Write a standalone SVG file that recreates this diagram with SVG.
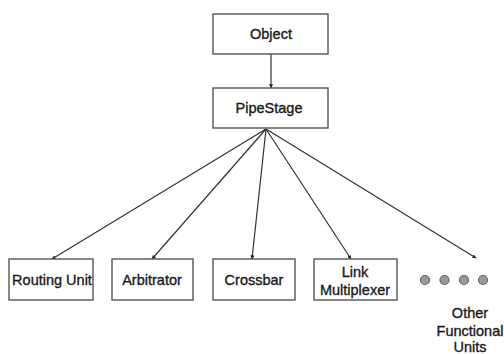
<svg xmlns="http://www.w3.org/2000/svg" width="504" height="354" viewBox="0 0 504 354">
  <defs>
    <marker id="arrow" viewBox="0 0 6 6" refX="5.5" refY="3" markerWidth="4" markerHeight="4" orient="auto" markerUnits="userSpaceOnUse">
      <path d="M0,0 L6,3 L0,6 Z" fill="#222"/>
    </marker>
    <style>
      .box { fill: #fff; stroke: #555; stroke-width: 1.4; }
      .lbl { font-family: "Liberation Sans", Arial, sans-serif; font-size: 14.5px; fill: #1a1a1a; text-anchor: middle; stroke: #1a1a1a; stroke-width: 0.35; }
      .edge { stroke: #333; stroke-width: 1.2; fill: none; marker-end: url(#arrow); }
      .dot { fill: #999; stroke: #666; stroke-width: 1.2; }
    </style>
  </defs>
  <rect width="504" height="354" fill="#fff"/>

  <g id="connectors">
    <line class="edge" x1="271" y1="54" x2="271" y2="88"/>
    <line class="edge" x1="266" y1="129" x2="52" y2="259"/>
    <line class="edge" x1="266" y1="129" x2="152" y2="259"/>
    <line class="edge" x1="266" y1="129" x2="252" y2="259"/>
    <line class="edge" x1="266" y1="129" x2="351" y2="259"/>
    <line class="edge" x1="266" y1="129" x2="476" y2="258"/>
  </g>

  <g id="object">
    <rect class="box" x="213" y="14" width="115" height="40"/>
    <text class="lbl" x="271" y="39">Object</text>
  </g>
  <g id="pipestage">
    <rect class="box" x="213" y="88" width="115" height="40"/>
    <text class="lbl" x="269" y="113">PipeStage</text>
  </g>
  <g id="routing-unit">
    <rect class="box" x="9" y="259" width="84" height="41"/>
    <text class="lbl" x="52" y="285">Routing Unit</text>
  </g>
  <g id="arbitrator">
    <rect class="box" x="112" y="259" width="81" height="41"/>
    <text class="lbl" x="152" y="285">Arbitrator</text>
  </g>
  <g id="crossbar">
    <rect class="box" x="213" y="259" width="82" height="41"/>
    <text class="lbl" x="254" y="285">Crossbar</text>
  </g>
  <g id="link-multiplexer">
    <rect class="box" x="314" y="259" width="83" height="41"/>
    <text class="lbl" x="355" y="277">Link</text>
    <text class="lbl" x="355" y="295">Multiplexer</text>
  </g>
  <g id="other-units">
    <circle class="dot" cx="425" cy="280" r="4.5"/>
    <circle class="dot" cx="444.5" cy="280" r="4.5"/>
    <circle class="dot" cx="464" cy="280" r="4.5"/>
    <circle class="dot" cx="483" cy="280" r="4.5"/>
    <text class="lbl" x="470" y="318">Other</text>
    <text class="lbl" x="470" y="336">Functional</text>
    <text class="lbl" x="470" y="352">Units</text>
  </g>
</svg>
